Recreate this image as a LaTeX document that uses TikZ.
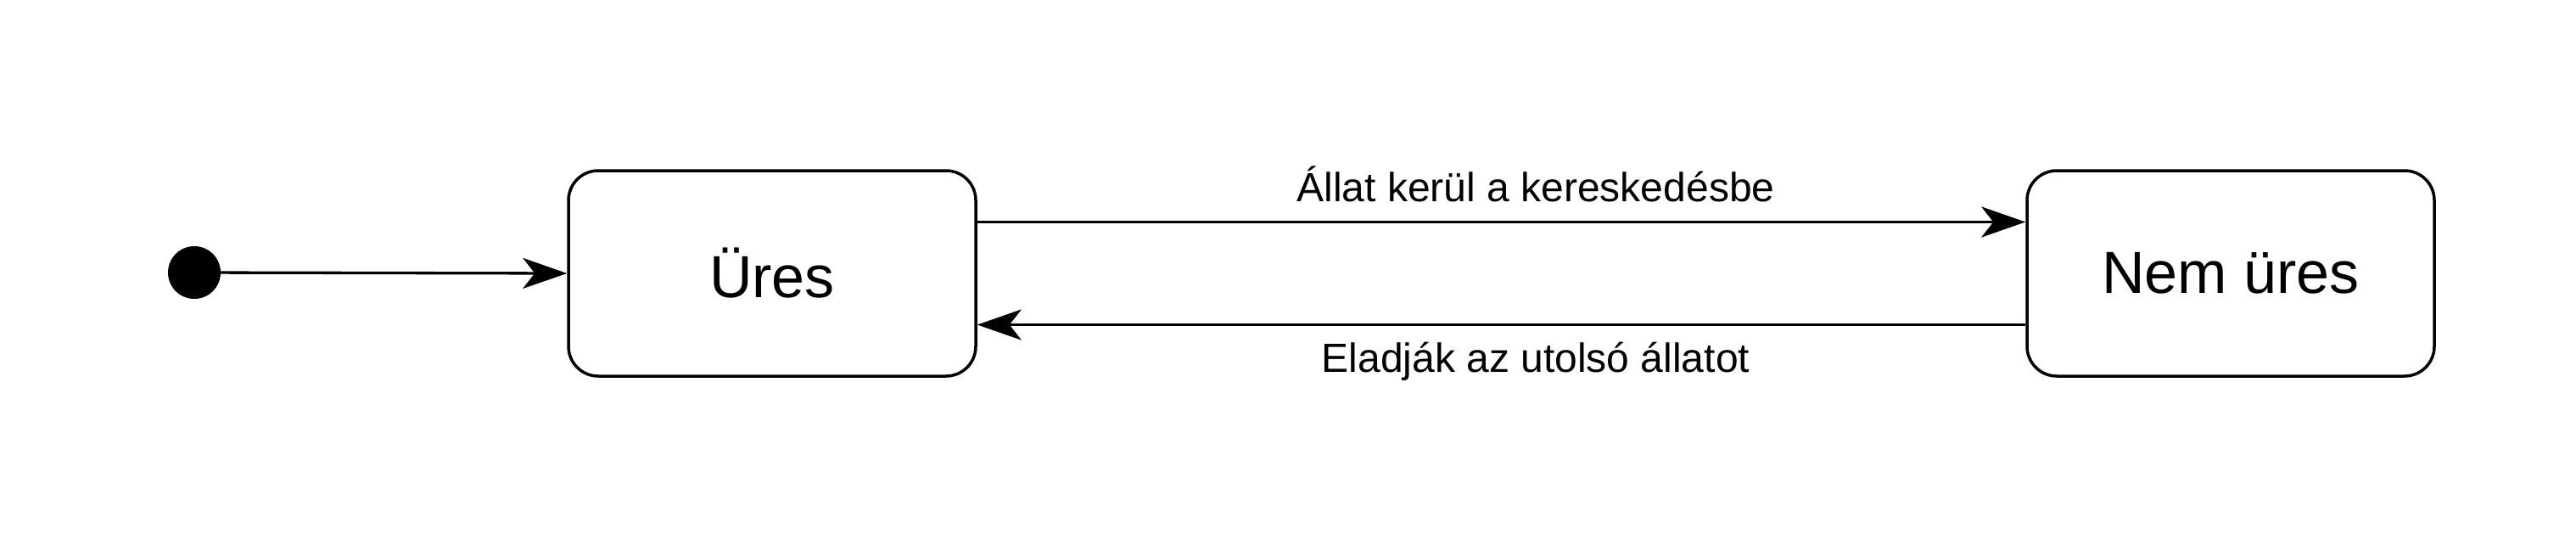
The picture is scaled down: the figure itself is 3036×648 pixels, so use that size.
\documentclass[tikz,border=0pt]{standalone}
\usepackage{fontspec}
\setmainfont{Liberation Sans}
\usetikzlibrary{arrows.meta}
\tikzset{
  statebox/.style={draw=black, line width=3.5pt, rounded corners=35pt, fill=white,
    minimum width=480pt, minimum height=242pt, inner sep=0pt, font=\fontsize{70}{84}\selectfont},
  initdot/.style={circle, fill=black, draw=none, minimum size=62pt, inner sep=0pt},
  conn/.style={line width=3.3pt, -{Stealth[length=52pt, width=36pt, inset=14pt]}},
  lbl/.style={font=\fontsize{48}{58}\selectfont, inner sep=0pt}
}
\begin{document}
\begin{tikzpicture}[x=1pt, y=-1pt]
\useasboundingbox (0,0) rectangle (3036,648);
\node[initdot] (start) at (229,321) {};
\node[statebox] (ures) at (910,322) {Üres};
\node[statebox] (nem) at (2629,322) {Nem üres};
\draw[conn] (start) -- (ures.west);
\draw[conn] ([yshift=60.5pt]ures.east) -- ([yshift=60.5pt]nem.west);
\draw[conn] ([yshift=-60.5pt]nem.west) -- ([yshift=-60.5pt]ures.east);
\node[lbl] (l1) at (1810,217) {Állat kerül a kereskedésbe};
\node[lbl] (l2) at (1810,426) {Eladják az utolsó állatot};
\end{tikzpicture}
\end{document}
